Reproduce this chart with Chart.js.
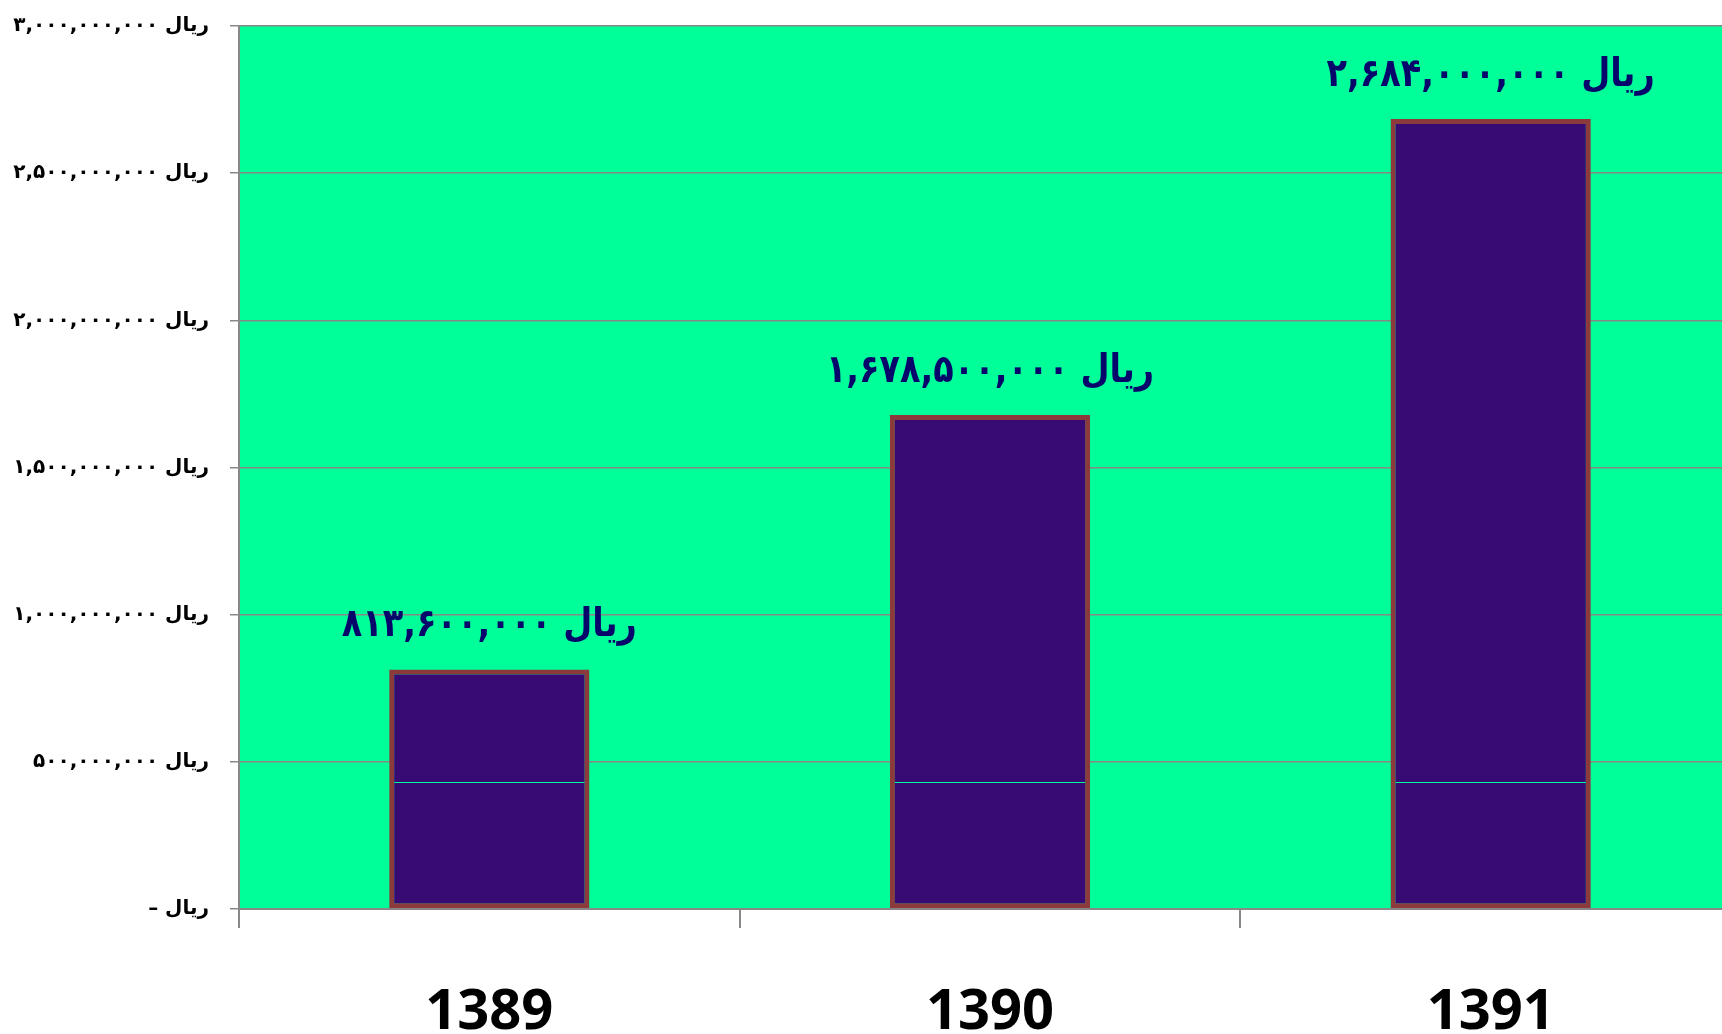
<!DOCTYPE html>
<html>
<head>
<meta charset="utf-8">
<script src="https://cdn.jsdelivr.net/npm/chart.js@4/dist/chart.umd.min.js"></script>
<style>
  html, body { margin: 0; padding: 0; background: #fff; overflow: hidden; }
  #wrap { width: 1760px; height: 1034px; }
</style>
</head>
<body>
<div id="wrap"><canvas id="chart" width="1760" height="1034"></canvas></div>
<script>
// سال ها و مبالغ (ریال)
const years = ['1389', '1390', '1391'];
const amounts = [813600000, 1678500000, 2684000000];
const yTicks = [0, 500000000, 1000000000, 1500000000, 2000000000, 2500000000, 3000000000];
const yTickLabels = [
	'– ریال',
	'۵۰۰,۰۰۰,۰۰۰ ریال',
	'۱,۰۰۰,۰۰۰,۰۰۰ ریال',
	'۱,۵۰۰,۰۰۰,۰۰۰ ریال',
	'۲,۰۰۰,۰۰۰,۰۰۰ ریال',
	'۲,۵۰۰,۰۰۰,۰۰۰ ریال',
	'۳,۰۰۰,۰۰۰,۰۰۰ ریال'
];
// خط روشن داخل ستون ها
const splitValue = 431000000;

const faDigits = '۰۱۲۳۴۵۶۷۸۹';
const toFa = n => n.toLocaleString('en-US').replace(/\d/g, d => faDigits[d]);

const style = {
	plotBg: '#00FF99',
	barFill: '#380A74',
	barBorder: '#8C3A3C',
	grid: '#888888',
	label: '#07076B',
	faFont: '"DejaVu Sans", sans-serif',
	enFont: '"Open Sans", sans-serif'
};

const plotBackground = {
	id: 'plotBackground',
	beforeDraw(chart) {
		const { ctx, chartArea: a } = chart;
		ctx.save();
		ctx.fillStyle = style.plotBg;
		ctx.fillRect(a.left, a.top, a.right - a.left, a.bottom - a.top);
		ctx.restore();
	}
};

const barExtras = {
	id: 'barExtras',
	afterDatasetsDraw(chart) {
		const { ctx } = chart;
		const y = chart.scales.y;
		const meta = chart.getDatasetMeta(0);
		ctx.save();
		meta.data.forEach((bar, i) => {
			// خط داخلی
			const ys = Math.round(y.getPixelForValue(splitValue)) + 0.5;
			ctx.strokeStyle = style.plotBg;
			ctx.lineWidth = 1;
			ctx.beginPath();
			ctx.moveTo(bar.x - bar.width / 2 + 5, ys);
			ctx.lineTo(bar.x + bar.width / 2 - 5, ys);
			ctx.stroke();
			// برچسب مقدار (کمی فشرده تر در عرض)
			ctx.save();
			ctx.translate(bar.x, bar.y - 24);
			ctx.scale(0.86, 1);
			ctx.fillStyle = style.label;
			ctx.font = 'bold 39px ' + style.faFont;
			ctx.textAlign = 'center';
			ctx.textBaseline = 'bottom';
			ctx.fillText(toFa(amounts[i]) + ' ریال', 0, 0);
			ctx.restore();
		});
		ctx.restore();
	}
};

new Chart(document.getElementById('chart'), {
	type: 'bar',
	data: {
		labels: years,
		datasets: [{
			data: amounts,
			backgroundColor: style.barFill,
			borderColor: style.barBorder,
			borderWidth: 5,
			borderSkipped: false,
			categoryPercentage: 1,
			barPercentage: 0.4
		}]
	},
	options: {
		responsive: false,
		animation: false,
		devicePixelRatio: 1,
		layout: { padding: { left: 0, right: 19, top: 26, bottom: 0 } },
		plugins: {
			legend: { display: false },
			tooltip: { enabled: false }
		},
		scales: {
			x: {
				grid: {
					offset: true,
					drawOnChartArea: false,
					drawTicks: true,
					tickLength: 19,
					color: style.grid,
					lineWidth: 2
				},
				border: { display: true, color: style.grid, width: 2 },
				ticks: {
					color: '#000',
					padding: 51,
					font: { family: style.enFont, size: 56, weight: 'bold' }
				},
				afterFit(scale) {
					scale.height = 125;
					scale.paddingLeft = 0;
					scale.paddingRight = 0;
				}
			},
			y: {
				min: 0,
				max: 3000000000,
				afterBuildTicks(scale) { scale.ticks = yTicks.map(v => ({ value: v })); },
				grid: {
					color: style.grid,
					lineWidth: 1.5,
					tickLength: 9
				},
				border: { display: true, color: style.grid, width: 2 },
				ticks: {
					color: '#000',
					padding: 21,
					font: { family: style.faFont, size: 20, weight: 'bold' },
					callback: (v, i) => yTickLabels[i]
				},
				afterFit(scale) {
					scale.width = 239;
					scale.paddingTop = 0;
					scale.paddingBottom = 0;
				}
			}
		}
	},
	plugins: [plotBackground, barExtras]
});
</script>
</body>
</html>
